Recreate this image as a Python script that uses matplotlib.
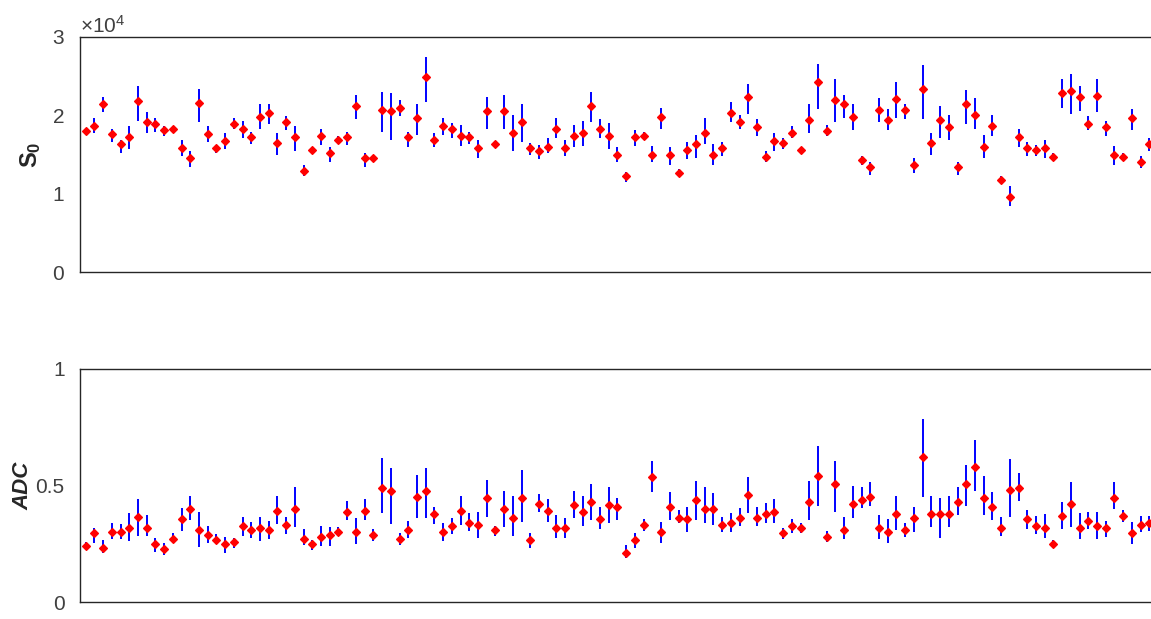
import numpy as np
import matplotlib
matplotlib.use("Agg")
import matplotlib.pyplot as plt
from matplotlib.ticker import ScalarFormatter

plt.rcParams["font.family"] = ["Liberation Sans", "DejaVu Sans"]
plt.rcParams["mathtext.fontset"] = "custom"
plt.rcParams["mathtext.rm"] = "Liberation Sans"
plt.rcParams["mathtext.bf"] = "Liberation Sans:bold"
plt.rcParams["mathtext.it"] = "Liberation Sans:italic"

# S0 fit per voxel, in units of 1e4: estimate, upper and lower bounds
s0_est = [
    1.80, 1.87, 2.14, 1.76, 1.63, 1.72, 2.18, 1.92, 1.89, 1.81,
    1.83, 1.58, 1.45, 2.16, 1.76, 1.58, 1.67, 1.89, 1.83, 1.72,
    1.98, 2.03, 1.65, 1.92, 1.72, 1.29, 1.56, 1.74, 1.52, 1.69,
    1.72, 2.12, 1.45, 1.45, 2.07, 2.05, 2.10, 1.72, 1.96, 2.49,
    1.69, 1.87, 1.83, 1.74, 1.72, 1.58, 2.05, 1.63, 2.05, 1.78,
    1.92, 1.58, 1.54, 1.60, 1.83, 1.58, 1.74, 1.78, 2.12, 1.83,
    1.74, 1.49, 1.23, 1.72, 1.74, 1.49, 1.98, 1.49, 1.27, 1.56,
    1.63, 1.78, 1.49, 1.58, 2.03, 1.92, 2.23, 1.85, 1.47, 1.67,
    1.65, 1.78, 1.56, 1.94, 2.43, 1.80, 2.20, 2.14, 1.98, 1.43,
    1.34, 2.07, 1.94, 2.21, 2.07, 1.36, 2.34, 1.65, 1.94, 1.85,
    1.34, 2.14, 2.00, 1.60, 1.87, 1.18, 0.96, 1.72, 1.58, 1.56,
    1.58, 1.47, 2.29, 2.31, 2.23, 1.89, 2.25, 1.85, 1.49, 1.47,
    1.96, 1.40, 1.63,
]
s0_hi = [
    1.83, 1.97, 2.24, 1.83, 1.69, 1.86, 2.37, 2.04, 1.97, 1.86,
    1.86, 1.69, 1.55, 2.34, 1.86, 1.62, 1.77, 1.96, 1.93, 1.79,
    2.14, 2.14, 1.77, 1.99, 1.86, 1.37, 1.60, 1.83, 1.59, 1.73,
    1.79, 2.26, 1.52, 1.49, 2.30, 2.28, 2.19, 1.79, 2.14, 2.75,
    1.77, 1.97, 1.90, 1.88, 1.79, 1.68, 2.24, 1.66, 2.26, 2.01,
    2.14, 1.65, 1.62, 1.71, 1.97, 1.68, 1.88, 1.93, 2.30, 1.95,
    1.90, 1.59, 1.28, 1.81, 1.79, 1.61, 2.10, 1.59, 1.32, 1.66,
    1.75, 1.97, 1.63, 1.66, 2.17, 2.01, 2.40, 1.95, 1.55, 1.77,
    1.71, 1.86, 1.60, 2.14, 2.66, 1.88, 2.46, 2.26, 2.14, 1.48,
    1.41, 2.22, 2.08, 2.42, 2.14, 1.46, 2.64, 1.77, 2.12, 2.01,
    1.41, 2.32, 2.22, 1.75, 2.01, 1.23, 1.10, 1.82, 1.66, 1.62,
    1.69, 1.52, 2.46, 2.53, 2.37, 1.99, 2.46, 1.93, 1.61, 1.52,
    2.08, 1.48, 1.71,
]
s0_lo = [
    1.75, 1.77, 2.04, 1.66, 1.52, 1.57, 1.93, 1.77, 1.79, 1.73,
    1.79, 1.48, 1.34, 1.91, 1.66, 1.52, 1.57, 1.83, 1.71, 1.63,
    1.82, 1.89, 1.50, 1.81, 1.55, 1.23, 1.51, 1.62, 1.40, 1.66,
    1.62, 1.95, 1.34, 1.41, 1.79, 1.69, 1.99, 1.59, 1.75, 2.17,
    1.59, 1.75, 1.71, 1.61, 1.64, 1.46, 1.83, 1.59, 1.83, 1.55,
    1.66, 1.50, 1.44, 1.52, 1.71, 1.48, 1.59, 1.61, 1.91, 1.71,
    1.57, 1.40, 1.15, 1.61, 1.69, 1.40, 1.83, 1.37, 1.23, 1.44,
    1.46, 1.63, 1.37, 1.48, 1.91, 1.83, 2.02, 1.73, 1.40, 1.55,
    1.57, 1.71, 1.52, 1.77, 2.08, 1.73, 1.91, 1.97, 1.81, 1.37,
    1.24, 1.91, 1.81, 1.97, 1.95, 1.26, 1.95, 1.50, 1.71, 1.69,
    1.24, 1.89, 1.82, 1.46, 1.73, 1.13, 0.84, 1.59, 1.48, 1.48,
    1.46, 1.42, 2.10, 2.02, 2.06, 1.81, 2.04, 1.73, 1.37, 1.42,
    1.81, 1.33, 1.55,
]

# ADC fit per voxel: estimate, upper and lower bounds
adc_est = [
    0.242, 0.295, 0.233, 0.302, 0.302, 0.316, 0.363, 0.316, 0.250, 0.227,
    0.272, 0.355, 0.400, 0.309, 0.287, 0.265, 0.250, 0.256, 0.326, 0.309,
    0.316, 0.309, 0.392, 0.332, 0.400, 0.272, 0.250, 0.280, 0.287, 0.302,
    0.385, 0.302, 0.392, 0.287, 0.489, 0.475, 0.272, 0.309, 0.452, 0.475,
    0.376, 0.302, 0.326, 0.392, 0.339, 0.332, 0.445, 0.309, 0.399, 0.362,
    0.445, 0.265, 0.422, 0.392, 0.316, 0.316, 0.415, 0.385, 0.429, 0.355,
    0.415, 0.408, 0.212, 0.265, 0.332, 0.535, 0.302, 0.408, 0.362, 0.355,
    0.438, 0.400, 0.400, 0.332, 0.339, 0.362, 0.461, 0.362, 0.378, 0.385,
    0.295, 0.326, 0.316, 0.429, 0.542, 0.279, 0.505, 0.309, 0.422, 0.438,
    0.452, 0.316, 0.302, 0.378, 0.309, 0.362, 0.624, 0.378, 0.378, 0.378,
    0.429, 0.505, 0.579, 0.445, 0.408, 0.316, 0.482, 0.489, 0.355, 0.326,
    0.316, 0.249, 0.369, 0.422, 0.316, 0.348, 0.326, 0.316, 0.445, 0.369,
    0.295, 0.332, 0.339,
]
adc_hi = [
    0.256, 0.319, 0.266, 0.341, 0.335, 0.380, 0.441, 0.372, 0.273, 0.252,
    0.298, 0.402, 0.455, 0.388, 0.328, 0.290, 0.280, 0.273, 0.366, 0.342,
    0.366, 0.349, 0.455, 0.365, 0.492, 0.312, 0.266, 0.328, 0.320, 0.323,
    0.433, 0.359, 0.441, 0.312, 0.620, 0.574, 0.298, 0.349, 0.545, 0.574,
    0.409, 0.341, 0.359, 0.455, 0.380, 0.388, 0.524, 0.328, 0.478, 0.455,
    0.567, 0.298, 0.462, 0.441, 0.373, 0.359, 0.478, 0.455, 0.506, 0.409,
    0.492, 0.448, 0.245, 0.298, 0.358, 0.605, 0.342, 0.471, 0.395, 0.409,
    0.521, 0.492, 0.469, 0.366, 0.380, 0.402, 0.538, 0.409, 0.423, 0.441,
    0.319, 0.358, 0.338, 0.521, 0.671, 0.305, 0.605, 0.363, 0.499, 0.492,
    0.514, 0.373, 0.356, 0.455, 0.341, 0.409, 0.784, 0.455, 0.448, 0.455,
    0.492, 0.588, 0.694, 0.542, 0.471, 0.363, 0.612, 0.552, 0.395, 0.370,
    0.378, 0.266, 0.431, 0.514, 0.380, 0.385, 0.388, 0.349, 0.514, 0.395,
    0.342, 0.370, 0.370,
]
adc_lo = [
    0.230, 0.255, 0.209, 0.269, 0.269, 0.262, 0.285, 0.285, 0.216, 0.202,
    0.255, 0.306, 0.350, 0.237, 0.255, 0.249, 0.209, 0.230, 0.285, 0.276,
    0.262, 0.269, 0.336, 0.292, 0.323, 0.245, 0.223, 0.240, 0.240, 0.283,
    0.352, 0.247, 0.352, 0.262, 0.380, 0.335, 0.245, 0.276, 0.359, 0.359,
    0.335, 0.262, 0.292, 0.330, 0.306, 0.276, 0.366, 0.285, 0.323, 0.283,
    0.342, 0.233, 0.388, 0.342, 0.276, 0.276, 0.359, 0.328, 0.352, 0.313,
    0.338, 0.352, 0.187, 0.230, 0.306, 0.471, 0.255, 0.352, 0.338, 0.299,
    0.352, 0.338, 0.330, 0.299, 0.299, 0.328, 0.380, 0.328, 0.338, 0.338,
    0.269, 0.295, 0.295, 0.352, 0.412, 0.259, 0.388, 0.270, 0.359, 0.402,
    0.412, 0.269, 0.255, 0.309, 0.277, 0.299, 0.449, 0.323, 0.276, 0.323,
    0.373, 0.413, 0.478, 0.373, 0.352, 0.285, 0.366, 0.433, 0.313, 0.290,
    0.276, 0.233, 0.313, 0.323, 0.269, 0.313, 0.269, 0.277, 0.398, 0.342,
    0.247, 0.299, 0.306,
]

s0_ticks = [0, 1e4, 2e4, 3e4]
adc_ticks = [0, 0.5, 1]

voxel = np.arange(1, len(s0_est) + 1)
s0 = np.array(s0_est) * 1e4
s0_up = np.array(s0_hi) * 1e4
s0_dn = np.array(s0_lo) * 1e4
adc = np.array(adc_est)
adc_up = np.array(adc_hi)
adc_dn = np.array(adc_lo)

W, H = 1151, 619
fig = plt.figure(figsize=(W / 100, H / 100), dpi=100)
fig.patch.set_facecolor("white")

frame_col = "#262626"
text_col = "#404040"


def panel(rect_px, est, up, dn, ylim, ticks):
    left, top, right, bottom = rect_px
    ax = fig.add_axes([left / W, 1 - bottom / H, (right - left) / W, (bottom - top) / H])
    ax.errorbar(voxel, est, yerr=[est - dn, up - est], fmt="none",
                ecolor=(0, 0, 1), elinewidth=1.4, capsize=0, zorder=2)
    ax.plot(voxel, est, linestyle="none", marker="D", markersize=4.3,
            markerfacecolor="red", markeredgecolor="red", markeredgewidth=0.9,
            zorder=3)
    ax.set_xlim(0.35, 124.8)
    ax.set_ylim(*ylim)
    ax.set_yticks(ticks)
    ax.set_xticks([])
    ax.tick_params(axis="y", length=0, pad=11, labelsize=15, labelcolor=text_col)
    for sp in ax.spines.values():
        sp.set_color(frame_col)
        sp.set_linewidth(1.0)
    return ax


ax1 = panel((80, 37, 1165, 272), s0, s0_up, s0_dn, (0, 3e4), s0_ticks)
fmt = ScalarFormatter(useMathText=True)
fmt.set_powerlimits((-3, 3))
ax1.yaxis.set_major_formatter(fmt)
off = ax1.yaxis.get_offset_text()
off.set_fontsize(15)
off.set_color(text_col)
ax1.set_ylabel(r"$\mathbf{S_0}$", fontsize=17, color=frame_col)
ax1.yaxis.set_label_coords(-0.034, 0.5)

ax2 = panel((80, 369, 1165, 602), adc, adc_up, adc_dn, (0, 1), adc_ticks)
ax2.set_yticklabels(["0", "0.5", "1"])
ax2.set_ylabel("ADC", fontsize=16, fontweight="bold", fontstyle="italic",
               color=frame_col)
ax2.yaxis.set_label_coords(-0.043, 0.5)

fig.savefig("out.png", dpi=100, facecolor="white")
